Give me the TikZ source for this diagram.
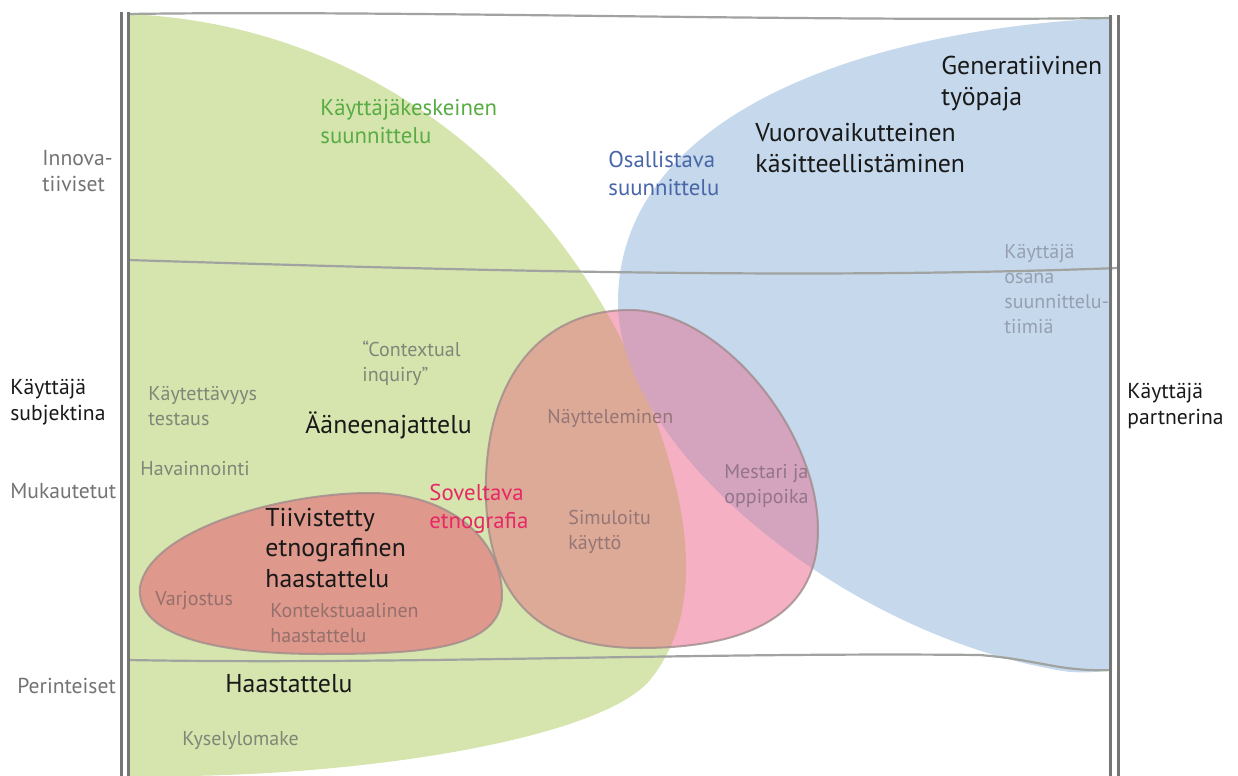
\documentclass[tikz,border=0pt]{standalone}
\usepackage{fontspec}
\setmainfont{PT Sans}
% fills
\definecolor{gfill}{RGB}{214,228,174}
\definecolor{bfill}{RGB}{197,216,236}
\definecolor{pfill}{RGB}{246,176,196}
\definecolor{pgmix}{RGB}{221,170,151}
\definecolor{pbmix}{RGB}{212,164,190}
\definecolor{sfill}{RGB}{222,152,140}
\definecolor{spmix}{RGB}{212,140,136}
% lines
\definecolor{framegray}{RGB}{118,118,118}
\definecolor{sepgray}{RGB}{160,163,160}
\definecolor{blobedge}{RGB}{160,140,140}
% text
\definecolor{ink}{RGB}{25,25,25}
\definecolor{txtgray}{RGB}{115,115,115}
\definecolor{ongreen}{RGB}{128,134,120}
\definecolor{onred}{RGB}{150,112,108}
\definecolor{onbrown}{RGB}{150,118,118}
\definecolor{onmauve}{RGB}{148,116,138}
\definecolor{onblue}{RGB}{150,160,176}
\definecolor{kkgreen}{RGB}{88,172,68}
\definecolor{osblue}{RGB}{72,102,168}
\definecolor{sopink}{RGB}{230,40,100}

% region outlines
\def\shpgreen{(128,14) .. controls (380,25) and (560,190) .. (640,380)
  .. controls (680,475) and (715,600) .. (650,680)
  .. controls (600,740) and (350,780) .. (128,776) -- cycle}
\def\shpblue{(1112,18) .. controls (850,30) and (620,120) .. (618,300)
  .. controls (616,450) and (850,640) .. (1070,672)
  .. controls (1090,673) and (1105,672) .. (1112,668) -- cycle}
\def\shppink{(630,310) .. controls (720,310) and (818,430) .. (818,530)
  .. controls (818,620) and (740,648) .. (640,648)
  .. controls (540,648) and (490,600) .. (486,500)
  .. controls (482,380) and (540,310) .. (630,310) -- cycle}
\def\shpsmall{(140,587) .. controls (150,530) and (280,493) .. (370,493)
  .. controls (450,493) and (502,540) .. (502,595)
  .. controls (502,650) and (420,654) .. (320,654)
  .. controls (220,654) and (135,637) .. (140,587) -- cycle}

\begin{document}
\begin{tikzpicture}[x=0.5pt,y=-0.5pt,
  % multi-line labels sit on the baseline of their last line
  lbl/.style={inner sep=0pt, anchor=base west, align=left},
  bigtxt/.style={lbl, text=ink, font=\fontsize{12.9}{15.2}\selectfont},
  sidetxt/.style={lbl, font=\fontsize{10.8}{12.8}\selectfont},
  colortxt/.style={lbl, font=\fontsize{11.4}{14}\selectfont},
  smalltxt/.style={lbl, font=\fontsize{10}{12.5}\selectfont},
  sepline/.style={draw=sepgray, line width=1.1pt},
  railline/.style={draw=framegray, line width=1.5pt},
  blobline/.style={draw=blobedge, draw opacity=0.8, line width=1pt}]

\useasboundingbox (0,0) rectangle (1238,776);
\clip (0,0) rectangle (1238,776);

% large regions
\fill[gfill] \shpgreen;
\fill[bfill] \shpblue;

% level separators and top edge
\draw[sepline] (128,14) .. controls (400,10) and (800,22) .. (1112,18);
\draw[sepline] (128,260) .. controls (450,270) and (800,280) .. (1118,268);
\draw[sepline] (128,660) .. controls (400,665) and (700,652) .. (980,655)
  .. controls (1040,660) and (1060,672) .. (1112,670);

% applied ethnography blob with its overlaps
\fill[pfill] \shppink;
\begin{scope}
  \clip \shppink;
  \fill[pgmix] \shpgreen;
  \fill[pbmix] \shpblue;
\end{scope}

% condensed ethnographic interview blob
\fill[sfill] \shpsmall;
\begin{scope}
  \clip \shppink;
  \fill[spmix] \shpsmall;
\end{scope}

\draw[blobline] \shppink;
\draw[blobline] \shpsmall;

% side rails
\draw[railline] (121,12) -- (121,776);
\draw[railline] (128,12) -- (128,776);
\draw[railline] (1110,15) -- (1110,776);
\draw[railline] (1118,15) -- (1118,776);

% axis labels
\node[sidetxt, text=txtgray] (innova) at (42,191) {Innova-\\tiiviset};
\node[sidetxt, text=ink] (subj) at (10,420) {Käyttäjä\\subjektina};
\node[sidetxt, text=txtgray] (muk) at (10,498) {Mukautetut};
\node[sidetxt, text=txtgray] (peri) at (17,693) {Perinteiset};
\node[sidetxt, text=ink] (partner) at (1127,424) {Käyttäjä\\partnerina};

% approach names
\node[colortxt, text=kkgreen] (kk) at (320,143) {Käyttäjäkeskeinen\\suunnittelu};
\node[colortxt, text=osblue] (osal) at (608,195) {Osallistava\\suunnittelu};
\node[colortxt, text=sopink] (sovel) at (429,528) {Soveltava\\etnografia};

% methods
\node[bigtxt] (gen) at (941,105) {Generatiivinen\\työpaja};
\node[bigtxt] (vuoro) at (755,172) {Vuorovaikutteinen\\käsitteellistäminen};
\node[bigtxt] (aan) at (305,433) {Ääneenajattelu};
\node[bigtxt] (tiiv) at (265,587) {Tiivistetty\\etnografinen\\haastattelu};
\node[bigtxt] (haast) at (225,692) {Haastattelu};

\node[smalltxt, text=onblue] (osana) at (1004,333) {Käyttäjä\\osana\\suunnittelu-\\tiimiä};
\node[smalltxt, text=ongreen] (context) at (362,381) {“Contextual\\inquiry”};
\node[smalltxt, text=ongreen] (kaytett) at (148,425) {Käytettävyys\\testaus};
\node[smalltxt, text=ongreen] (havain) at (140,475) {Havainnointi};
\node[smalltxt, text=onbrown] (nayt) at (547,423) {Näytteleminen};
\node[smalltxt, text=onbrown] (simu) at (568,549) {Simuloitu\\käyttö};
\node[smalltxt, text=onmauve] (mestari) at (724,503) {Mestari ja\\oppipoika};
\node[smalltxt, text=onred] (varj) at (155,605) {Varjostus};
\node[smalltxt, text=onred] (konteks) at (270,642) {Kontekstuaalinen\\haastattelu};
\node[smalltxt, text=ongreen] (kysely) at (182,745) {Kyselylomake};

\end{tikzpicture}
\end{document}
